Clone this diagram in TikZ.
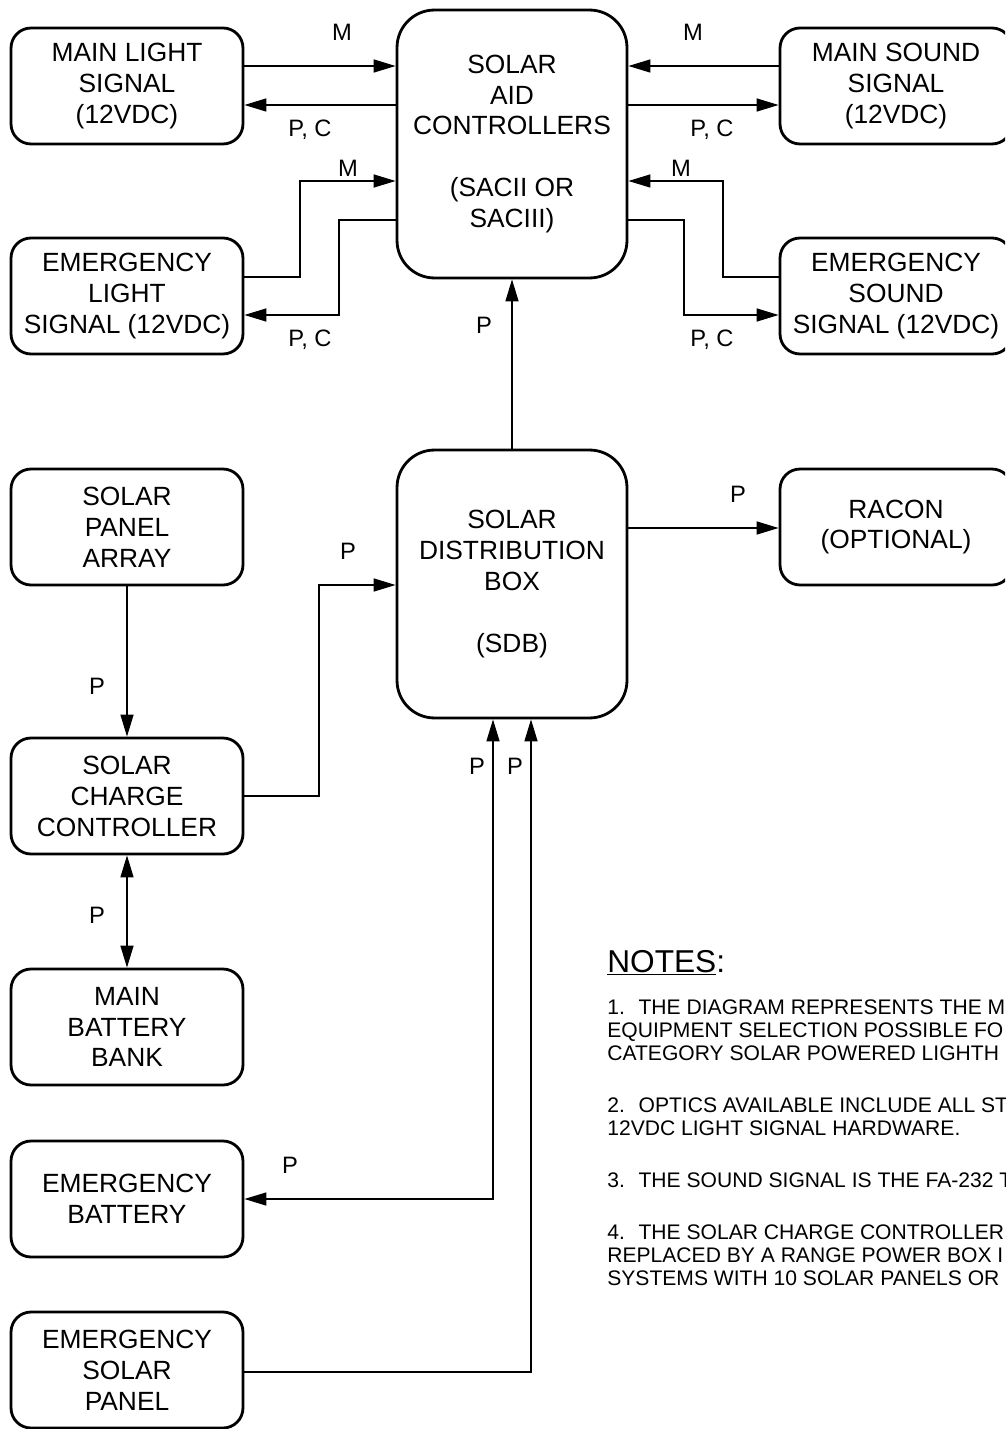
\documentclass[tikz,border=0pt]{standalone}
\usepackage{fontspec}
\setmainfont{Liberation Sans}
\usetikzlibrary{arrows.meta}

\begin{document}
\begin{tikzpicture}[x=0.02cm, y=-0.02cm,
    >={Triangle[length=0.44cm, width=0.26cm]},
    unit/.style={draw, line width=1.6pt, rounded corners=0.4cm, minimum width=4.64cm,
      minimum height=2.32cm, align=center, inner sep=0pt, font=\fontsize{15}{17.6}\selectfont},
    bigunit/.style={unit, rounded corners=0.75cm, minimum width=4.6cm, minimum height=5.36cm},
    link/.style={line width=0.8pt},
    lbl/.style={inner sep=0pt, font=\fontsize{13.5}{15}\selectfont},
    notetext/.style={anchor=base west, inner sep=0pt, font=\fontsize{12}{13}\selectfont}]
  \useasboundingbox (0,0) rectangle (1005,1429);
  \clip (0,0) rectangle (1005,1429);

  % controllers and distribution box
  \node[bigunit] (sac) at (512,144) {SOLAR\\AID\\CONTROLLERS\\[0.62cm](SACII OR\\SACIII)};
  \node[bigunit] (sdb) at (512,584) {SOLAR\\DISTRIBUTION\\BOX\\[0.62cm](SDB)};

  % left column
  \node[unit] (mls) at (127,86) {MAIN LIGHT\\SIGNAL\\(12VDC)};
  \node[unit] (els) at (127,296) {EMERGENCY\\LIGHT\\SIGNAL (12VDC)};
  \node[unit] (spa) at (127,527) {SOLAR\\PANEL\\ARRAY};
  \node[unit] (scc) at (127,796) {SOLAR\\CHARGE\\CONTROLLER};
  \node[unit] (mbb) at (127,1027) {MAIN\\BATTERY\\BANK};
  \node[unit] (ebat) at (127,1199) {EMERGENCY\\BATTERY};
  \node[unit] (esp) at (127,1370) {EMERGENCY\\SOLAR\\PANEL};

  % right column
  \node[unit] (mss) at (896,86) {MAIN SOUND\\SIGNAL\\(12VDC)};
  \node[unit] (ess) at (896,296) {EMERGENCY\\SOUND\\SIGNAL (12VDC)};
  \node[unit] (racon) at (896,527) {RACON\\(OPTIONAL)};

  % light signals
  \draw[link, ->] (mls.east |- 0,66) -- (sac.west |- 0,66);
  \draw[link, ->] (sac.west |- 0,105) -- (mls.east |- 0,105);
  \draw[link, ->] (els.east |- 0,277) -| (300,181) -- (sac.west |- 0,181);
  \draw[link, ->] (sac.west |- 0,220) -| (339,315) -- (els.east |- 0,315);

  % sound signals
  \draw[link, ->] (mss.west |- 0,66) -- (sac.east |- 0,66);
  \draw[link, ->] (sac.east |- 0,105) -- (mss.west |- 0,105);
  \draw[link, ->] (ess.west |- 0,277) -| (723,181) -- (sac.east |- 0,181);
  \draw[link, ->] (sac.east |- 0,220) -| (684,315) -- (ess.west |- 0,315);

  % power
  \draw[link, ->] (sdb.north) -- (sac.south);
  \draw[link, ->] (sdb.east |- 0,528) -- (racon.west |- 0,528);
  \draw[link, ->] (spa.south) -- (scc.north);
  \draw[link, ->] (scc.east) -| (319,585) -- (sdb.west |- 0,585);
  \draw[link, <->] (scc.south) -- (mbb.north);
  \draw[link, <->] (ebat.east) -| (sdb.south -| 493,0);
  \draw[link, ->] (esp.east |- 0,1372) -| (sdb.south -| 531,0);

  % line labels
  \node[lbl] (m1) at (342,32) {M};
  \node[lbl] (pc1) at (310,130) {P, C};
  \node[lbl] (m2) at (348,168) {M};
  \node[lbl] (pc2) at (310,340) {P, C};
  \node[lbl] (m3) at (693,32) {M};
  \node[lbl] (pc3) at (712,130) {P, C};
  \node[lbl] (m4) at (681,168) {M};
  \node[lbl] (pc4) at (712,340) {P, C};
  \node[lbl] (p1) at (484,325) {P};
  \node[lbl] (p2) at (738,494) {P};
  \node[lbl] (p3) at (97,686) {P};
  \node[lbl] (p4) at (348,551) {P};
  \node[lbl] (p5) at (97,915) {P};
  \node[lbl] (p6) at (477,766) {P};
  \node[lbl] (p7) at (515,766) {P};
  \node[lbl] (p8) at (290,1165) {P};

  % notes
  \node[notetext, font=\fontsize{18}{20}\selectfont] (notes) at (607,972) {\underline{NOTES}:};
  \foreach \y/\t [count=\i] in {
      1014/{1.~ THE DIAGRAM REPRESENTS THE M},
      1037/{EQUIPMENT SELECTION POSSIBLE FO},
      1060/{CATEGORY SOLAR POWERED LIGHTH},
      1112/{2.~ OPTICS AVAILABLE INCLUDE ALL ST},
      1135/{12VDC LIGHT SIGNAL HARDWARE.},
      1187/{3.~ THE SOUND SIGNAL IS THE FA-232 T},
      1239/{4.~ THE SOLAR CHARGE CONTROLLER},
      1262/{REPLACED BY A RANGE POWER BOX I},
      1285/{SYSTEMS WITH 10 SOLAR PANELS OR}}
    \node[notetext] (note\i) at (607,\y) {\t};
\end{tikzpicture}
\end{document}
